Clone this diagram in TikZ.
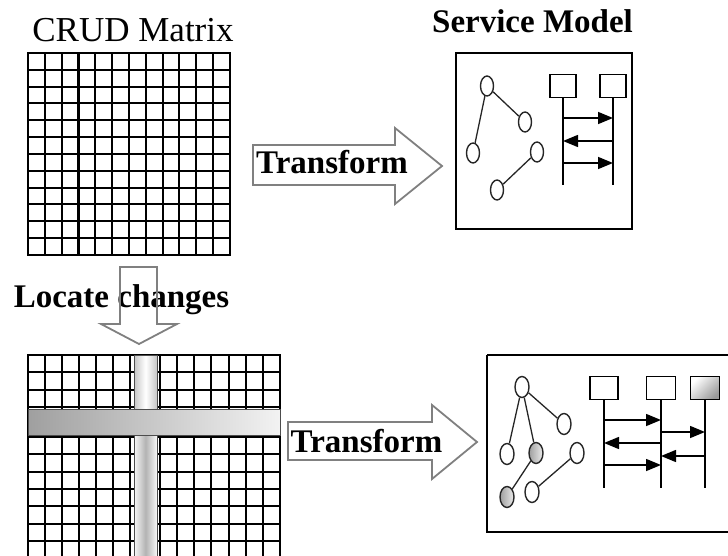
\documentclass[tikz,border=0pt]{standalone}
\usepackage{fontspec}
\setmainfont{Liberation Serif}
\usetikzlibrary{shapes.geometric,arrows.meta}

\begin{document}
\begin{tikzpicture}[x=1pt, y=-1pt,
    gridline/.style={line width=2pt, line cap=rect, black},
    label/.style={inner sep=0pt, anchor=base, font=\fontsize{33}{36}\selectfont\bfseries},
    blockarrow/.style={draw=gray, line width=1.8pt, line join=miter},
    obj/.style={ellipse, draw=black!85, line width=1.4pt, minimum width=13pt, minimum height=20pt, inner sep=0pt, fill=white},
    grayobj/.style={obj, left color=gray!75, right color=gray!15},
    lifebox/.style={rectangle, draw, line width=1.5pt, minimum width=26pt, minimum height=23pt, inner sep=0pt, fill=white},
    life/.style={line width=1.5pt},
    msg/.style={line width=1.5pt, -{Triangle[length=15pt,width=12pt]}},
    link/.style={line width=1.3pt, black!85}]
    \useasboundingbox (0,0) rectangle (728,556);

    % CRUD matrix
    \foreach \i in {0,...,12} {
        \draw[gridline] (28+\i*16.833,53) -- (28+\i*16.833,255);
        \draw[gridline] (28,53+\i*16.833) -- (230,53+\i*16.833);
    }
    \node[label, font=\fontsize{35}{38}\selectfont] (crud) at (133,42) {CRUD Matrix};

    % Transform arrow (top)
    \node[label] (tr1) at (332,174) {Transform};
    \draw[blockarrow] (253,145) -- (395,145) -- (395,128) -- (442,166) -- (395,204) -- (395,185) -- (253,185) -- cycle;

    % Service model (top)
    \node[label] (sm) at (532.5,33) {Service Model};
    \draw[line width=1.5pt] (456,53) rectangle (632,229);
    \node[obj] (n1) at (487,86) {};
    \node[obj] (n2) at (525,122) {};
    \node[obj] (n3) at (473,153) {};
    \node[obj] (n4) at (537,152) {};
    \node[obj] (n5) at (497,190) {};
    \draw[link] (n1) -- (n2);
    \draw[link] (n1) -- (n3);
    \draw[link] (n4) -- (n5);

    \node[lifebox] (a1) at (563,86) {};
    \node[lifebox] (a2) at (613,86) {};
    \coordinate (a1e) at (563,185);
    \coordinate (a2e) at (613,185);
    \draw[life] (a1) -- (a1e);
    \draw[life] (a2) -- (a2e);
    \coordinate (ya) at (0,118);
    \coordinate (yb) at (0,141);
    \coordinate (yc) at (0,163);
    \draw[msg] (a1 |- ya) -- (a2 |- ya);
    \draw[msg] (a2 |- yb) -- (a1 |- yb);
    \draw[msg] (a1 |- yc) -- (a2 |- yc);

    % Locate changes
    \node[label] (loc) at (121.5,307) {Locate changes};
    \draw[blockarrow] (120,267) -- (157,267) -- (157,324) -- (177,324) -- (139,344) -- (101,324) -- (120,324) -- cycle;

    % Changed matrix
    \foreach \x in {0,...,6}
        \draw[gridline] (28+\x*17,355) -- (28+\x*17,560);
    \foreach \x in {0,...,7}
        \draw[gridline] (160+\x*17.143,355) -- (160+\x*17.143,560);
    \foreach \y in {0,...,3}
        \draw[gridline] (28,355+\y*17.333) -- (280,355+\y*17.333);
    \foreach \y in {0,...,7}
        \draw[gridline] (28,437+\y*17.3) -- (280,437+\y*17.3);
    \shade[left color=gray!45, right color=gray!45, middle color=white] (134,355) rectangle (157,409);
    \shade[left color=gray!5, right color=gray!5, middle color=gray!60] (134,409) rectangle (157,560);
    \draw[line width=0.8pt, black!70] (134,355) rectangle (157,560);
    \shadedraw[left color=gray!75, right color=gray!10, draw=black!70, line width=0.8pt] (28,409) rectangle (280,435);

    % Transform arrow (bottom)
    \node[label] (tr2) at (366.5,452) {Transform};
    \draw[blockarrow] (288,422) -- (432,422) -- (432,405) -- (477,442) -- (432,479) -- (432,460) -- (288,460) -- cycle;

    % Service model (bottom)
    \draw[line width=1.5pt] (487,355) -- (735,355);
    \draw[line width=1.5pt] (487,355) -- (487,532) -- (735,532);
    \node[obj, minimum width=14pt, minimum height=21pt] (m1) at (522,387) {};
    \node[obj, minimum width=14pt, minimum height=21pt] (m2) at (564,424) {};
    \node[obj, minimum width=14pt, minimum height=21pt] (m3) at (507,454) {};
    \node[grayobj, minimum width=14pt, minimum height=21pt] (m4) at (536,453) {};
    \node[obj, minimum width=14pt, minimum height=21pt] (m5) at (577,453) {};
    \node[grayobj, minimum width=14pt, minimum height=21pt] (m6) at (507,497) {};
    \node[obj, minimum width=14pt, minimum height=21pt] (m7) at (532,492) {};
    \draw[link] (m1) -- (m2);
    \draw[link] (m1) -- (m3);
    \draw[link] (m1) -- (m4);
    \draw[link] (m4) -- (m6);
    \draw[link] (m5) -- (m7);

    \node[lifebox, minimum width=28pt] (b1) at (604,388) {};
    \node[lifebox, minimum width=29pt] (b2) at (661,388) {};
    \node[lifebox, minimum width=29pt, top color=white, bottom color=gray!80, shading angle=45] (b3) at (705,388) {};
    \coordinate (b1e) at (604,488);
    \coordinate (b2e) at (661,488);
    \coordinate (b3e) at (705,488);
    \draw[life] (b1) -- (b1e);
    \draw[life] (b2) -- (b2e);
    \draw[life] (b3) -- (b3e);
    \coordinate (yd) at (0,420);
    \coordinate (ye) at (0,432);
    \coordinate (yf) at (0,443);
    \coordinate (yg) at (0,456);
    \coordinate (yh) at (0,465);
    \draw[msg] (b1 |- yd) -- (b2 |- yd);
    \draw[msg] (b2 |- ye) -- (b3 |- ye);
    \draw[msg] (b2 |- yf) -- (b1 |- yf);
    \draw[msg] (b3 |- yg) -- (b2 |- yg);
    \draw[msg] (b1 |- yh) -- (b2 |- yh);
\end{tikzpicture}
\end{document}
